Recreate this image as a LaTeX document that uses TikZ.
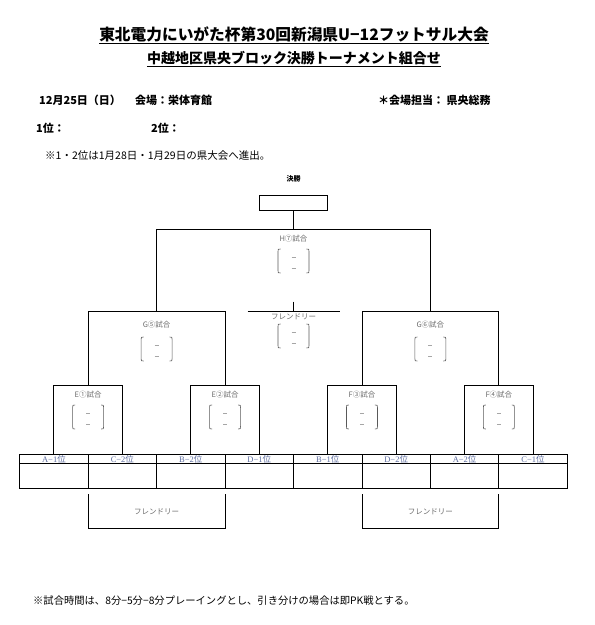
\documentclass[tikz,border=0pt]{standalone}
\usepackage{fontspec}
\setmainfont{Noto Sans CJK JP}
\newfontfamily\lser{Liberation Serif}
\definecolor{lbl}{rgb}{0.42,0.42,0.42}
\definecolor{tbl}{rgb}{0.36,0.42,0.62}
\begin{document}
\begin{tikzpicture}[x=1pt,y=-1pt,
  ln/.style={line width=0.9pt,black},
  brk/.style={line width=0.6pt,black!65},
  dsh/.style={line width=0.5pt,black!35},
  titleA/.style={font=\bfseries\fontsize{15.7}{18}\selectfont,inner sep=0pt},
  titleB/.style={font=\bfseries\fontsize{14}{16}\selectfont,inner sep=0pt},
  head/.style={font=\bfseries\fontsize{11}{13}\selectfont,inner sep=0pt,anchor=west},
  note/.style={font=\fontsize{10.5}{12}\selectfont,inner sep=0pt,anchor=west},
  lab/.style={font=\fontsize{7.5}{8}\selectfont,text=lbl,inner sep=0pt},
  cell/.style={font=\fontsize{8.5}{9}\selectfont,text=tbl,inner sep=0pt,minimum width=68.45pt,minimum height=9.3pt,anchor=north},
  score/.pic={
    \draw[brk] (-13,-12) .. controls (-15.5,-12) .. (-15.5,-9.5) -- (-15.5,9.5) .. controls (-15.5,12) .. (-13,12);
    \draw[brk] (13,-12) .. controls (15.5,-12) .. (15.5,-9.5) -- (15.5,9.5) .. controls (15.5,12) .. (13,12);
    \draw[dsh] (-2,-4) -- (2,-4);
    \draw[dsh] (-2,7) -- (2,7);
  }]
\useasboundingbox (0,0) rectangle (595,625);

% titles
\node[titleA] (t1) at (294,34) {東北電力にいがた杯第30回新潟県U−12フットサル大会};
\draw[line width=0.8pt] ([yshift=-3pt]t1.base west) -- ([yshift=-3pt]t1.base east);
\node[titleB] (t2) at (294,58) {中越地区県央ブロック決勝トーナメント組合せ};
\draw[line width=0.8pt] ([yshift=-3pt]t2.base west) -- ([yshift=-3pt]t2.base east);

% header
\node[head] (date) at (39,100) {12月25日（日）};
\node[head] (venue) at (135,100) {会場：栄体育館};
\node[head] (resp) at (378,100) {＊会場担当：\ 県央総務};
\node[head] (first) at (36,128) {1位：};
\node[head] (second) at (151,128) {2位：};
\node[note] (adv) at (45,156) {※1・2位は1月28日・1月29日の県大会へ進出。};
\node[note,font=\fontsize{10.3}{12}\selectfont] (foot) at (33,601) {※試合時間は、8分−5分−8分プレーイングとし、引き分けの場合は即PK戦とする。};

% final
\node[inner sep=0pt,font=\bfseries\fontsize{7}{8}\selectfont] (kessho) at (293.5,179) {決勝};
\node[ln,draw,minimum width=68.3pt,minimum height=15.7pt,inner sep=0pt] (final) at (293.5,203) {};

% table
\foreach \i/\t [count=\k] in {A/1,C/2,B/2,D/1,B/1,D/2,A/2,C/1}{
  \node[cell] (c\k) at ({19.7+68.45*(\k-0.5)},454) {{\lser \i−\t}位};
}
\draw[ln] (19.7,454) rectangle (567.3,488);
\draw[ln] (19.7,463.3) -- (567.3,463.3);
\foreach \k in {1,...,7}{ \draw[ln] ({19.7+68.45*\k},454) -- ({19.7+68.45*\k},488); }

% bracket coordinates
\coordinate (Htop) at (293.5,229.3);
\coordinate (G5) at (156.6,311.7);
\coordinate (G6) at (430.4,311.7);
\coordinate (E1) at (88.15,385.3);
\coordinate (E2) at (225.05,385.3);
\coordinate (F3) at (361.95,385.3);
\coordinate (F4) at (498.85,385.3);
\coordinate (Fr) at (293.5,301.5);
\coordinate (FrL) at (247.7,311.2);
\coordinate (FrR) at (339.7,311.2);

\draw[ln] (final.south) -- (Htop);
\draw[ln] (G5) |- (Htop) -| (G6);
\draw[ln] (E1) |- (G5) -| (E2);
\draw[ln] (F3) |- (G6) -| (F4);
\draw[ln] (c1.north) |- (E1) -| (c2.north);
\draw[ln] (c3.north) |- (E2) -| (c4.north);
\draw[ln] (c5.north) |- (F3) -| (c6.north);
\draw[ln] (c7.north) |- (F4) -| (c8.north);
\draw[ln] (FrL) -- (FrR);
\draw[ln] (Fr) -- (Fr |- FrL);

% match labels and score brackets
\node[lab] (lH) at (293.5,239) {H⑦試合};
\pic at (293.5,261) {score};
\node[lab] (lG5) at (156.6,325) {G⑤試合};
\pic at (156.6,349) {score};
\node[lab] (lG6) at (430.4,325) {G⑥試合};
\pic at (430.4,349) {score};
\node[lab] (lFr) at (293.5,317) {フレンドリー};
\pic at (293.5,336) {score};
\node[lab] (lE1) at (88.15,395) {E①試合};
\pic at (88.15,417) {score};
\node[lab] (lE2) at (225.05,395) {E②試合};
\pic at (225.05,417) {score};
\node[lab] (lF3) at (361.95,395) {F③試合};
\pic at (361.95,417) {score};
\node[lab] (lF4) at (498.85,395) {F④試合};
\pic at (498.85,417) {score};

% bottom friendlies
\draw[ln] (88.15,494.3) |- (225.05,528.3) -- (225.05,494.3);
\node[lab] (bf1) at (156.6,511.5) {フレンドリー};
\draw[ln] (361.95,494.3) |- (498.85,528.3) -- (498.85,494.3);
\node[lab] (bf2) at (430.4,511.5) {フレンドリー};
\end{tikzpicture}
\end{document}
